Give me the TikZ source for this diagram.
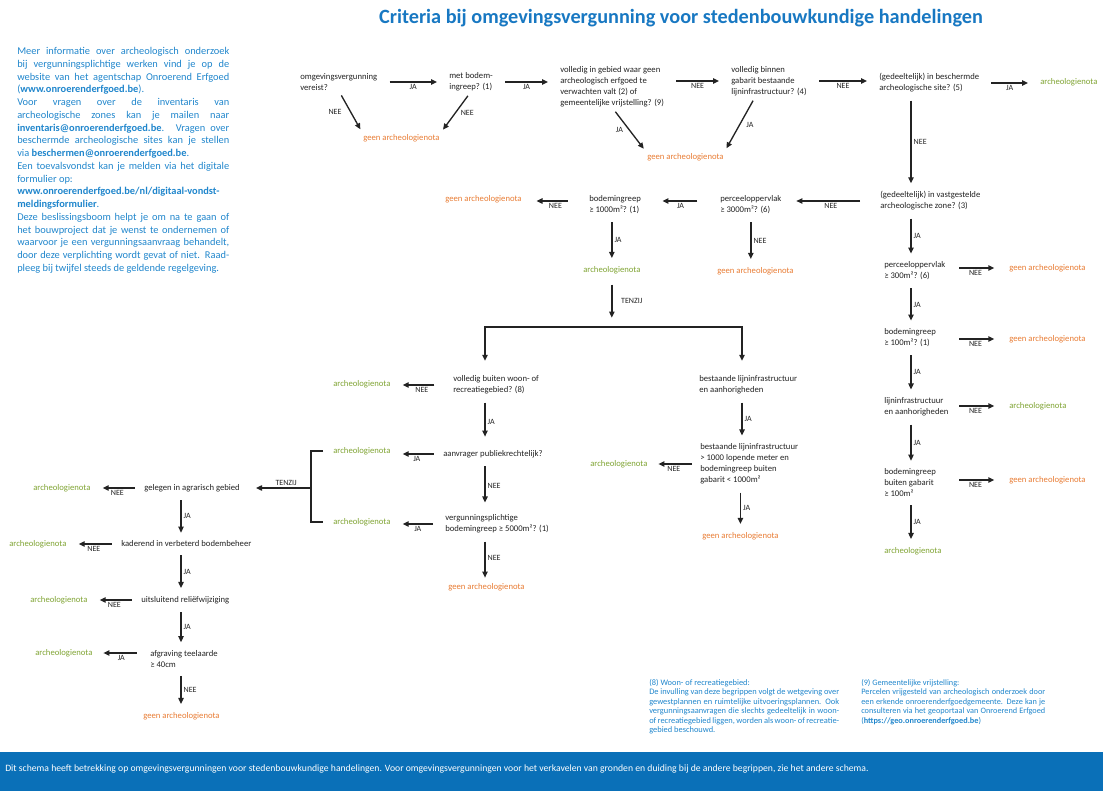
\documentclass[tikz,border=0pt]{standalone}
\usepackage{fontspec}
\setmainfont{Carlito}
\usetikzlibrary{arrows.meta}
\definecolor{txt}{RGB}{35,35,35}
\definecolor{grn}{RGB}{128,164,52}
\definecolor{org}{RGB}{232,124,52}
\definecolor{blu}{RGB}{32,134,204}
\definecolor{titleblue}{RGB}{24,120,194}
\definecolor{barblue}{RGB}{10,112,184}

\begin{document}
\begin{tikzpicture}[x = 0.75pt, y = -0.75pt, >={Triangle[length=4.5pt, width=4pt]},
    every node/.style = {inner sep = 0pt, text = txt, font = \fontsize{6.5}{8.25}\selectfont},
    q/.style = {anchor = west, align = left},
    nota/.style = {anchor = west, text = grn},
    geen/.style = {anchor = west, text = org},
    lbl/.style = {font = \fontsize{6}{7}\selectfont, inner sep = 1.5pt},
    link/.style = {draw = txt, line width = 1pt},
    harr/.style = {link, ->, shorten <= 9pt, shorten >= 9pt},
    varr/.style = {link, ->, shorten <= 6pt, shorten >= 6pt},
    darr/.style = {link, ->, shorten <= 4pt, shorten >= 4pt},
    note/.style = {anchor = north west, align = justify, text = blu,
        execute at begin node = {\parindent = 0pt\hyphenpenalty = 10000}}]
    \useasboundingbox (0,0) rectangle (1103,791);
    \fill[barblue] (0,752) rectangle (1103,791);

    \node[text = titleblue, font = \fontsize{15.2}{18}\selectfont\bfseries] (title) at (681,18)
        {Criteria bij omgevingsvergunning voor stedenbouwkundige handelingen};
    \node[note, text width = 159pt, font = \fontsize{7.8}{9.57}\selectfont] (info) at (17,47)
        {Meer informatie over archeologisch onderzoek\linebreak
        bij vergunningsplichtige werken vind je op de\linebreak
        website van het agentschap Onroerend Erfgoed\linebreak
        (\textbf{www.onroerenderfgoed.be}).\par
        Voor vragen over de inventaris van\linebreak
        archeologische zones kan je mailen naar\linebreak
        \textbf{inventaris@onroerenderfgoed.be}. Vragen over\linebreak
        beschermde archeologische sites kan je stellen\linebreak
        via \textbf{beschermen@onroerenderfgoed.be}.\par
        Een toevalsvondst kan je melden via het digitale\linebreak
        formulier op:\par
        \textbf{www.onroerenderfgoed.be/nl/digitaal-vondst-\linebreak
        meldingsformulier}.\par
        Deze beslissingsboom helpt je om na te gaan of\linebreak
        het bouwproject dat je wenst te ondernemen of\linebreak
        waarvoor je een vergunningsaanvraag behandelt,\linebreak
        door deze verplichting wordt gevat of niet. Raad-\linebreak
        pleeg bij twijfel steeds de geldende regelgeving.};
    \node[note, text width = 142.5pt, font = \fontsize{6.3}{7.1}\selectfont] (fn8) at (649,679)
        {(8) Woon- of recreatiegebied:\par
        De invulling van deze begrippen volgt de wetgeving over\linebreak
        gewestplannen en ruimtelijke uitvoeringsplannen. Ook\linebreak
        vergunningsaanvragen die slechts gedeeltelijk in woon-\linebreak
        of recreatiegebied liggen, worden als woon- of recreatie-\linebreak
        gebied beschouwd.};
    \node[note, text width = 138pt, font = \fontsize{6.2}{7.1}\selectfont] (fn9) at (861,679)
        {(9) Gemeentelijke vrijstelling:\par
        Percelen vrijgesteld van archeologisch onderzoek door\linebreak
        een erkende onroerenderfgoedgemeente. Deze kan je\linebreak
        consulteren via het geoportaal van Onroerend Erfgoed\linebreak
        (\textbf{https://geo.onroerenderfgoed.be})};
    \node[anchor = west, text = white, font = \fontsize{7.27}{8}\selectfont] (foot) at (5,769)
        {Dit schema heeft betrekking op omgevingsvergunningen voor stedenbouwkundige handelingen. Voor omgevingsvergunningen voor het verkavelen van gronden en duiding bij de andere begrippen, zie het andere schema.};

    \node[q] (vergunning) at (300,82) {omgevingsvergunning\\vereist?};
    \node[q] (ingreep) at (449,82) {met bodem-\\ingreep? (1)};
    \node[q] (gebied) at (560,87) {volledig in gebied waar geen\\archeologisch erfgoed te\\verwachten valt (2) of\\gemeentelijke vrijstelling? (9)};
    \node[q] (gabarit) at (731,81) {volledig binnen\\gabarit bestaande\\lijninfrastructuur? (4)};
    \node[q] (site) at (879,83) {(gedeeltelijk) in beschermde\\archeologische site? (5)};
    \node[nota] (n1) at (1040,82) {archeologienota};
    \node[geen] (g1) at (363,138) {geen archeologienota};
    \node[geen] (g2) at (647,157) {geen archeologienota};

    \node[q] (zone) at (880,201) {(gedeeltelijk) in vastgestelde\\archeologische zone? (3)};
    \node[q] (perceel) at (720,205) {perceeloppervlak\\≥ 3000m²? (6)};
    \node[q] (bodem) at (589,205) {bodemingreep\\≥ 1000m²? (1)};
    \node[geen] (g3) at (445,199) {geen archeologienota};
    \node[nota] (n2) at (583,270) {archeologienota};
    \node[geen] (g4) at (717,271) {geen archeologienota};

    \node[q] (woon) at (453,385) {volledig buiten woon- of\\recreatiegebied? (8)};
    \node[nota] (n3) at (333,384) {archeologienota};
    \node[q] (publiek) at (443,454) {aanvrager publiekrechtelijk?};
    \node[nota] (n4) at (333,451) {archeologienota};
    \node[q] (plicht) at (445,524) {vergunningsplichtige\\bodemingreep ≥ 5000m²? (1)};
    \node[nota] (n5) at (333,522) {archeologienota};
    \node[geen] (g5) at (448,587) {geen archeologienota};
    \node[q] (infra) at (699,385) {bestaande lijninfrastructuur\\en aanhorigheden};
    \node[q] (meter) at (700,464) {bestaande lijninfrastructuur\\> 1000 lopende meter en\\bodemingreep buiten\\gabarit < 1000m²};
    \node[nota] (n6) at (590,464) {archeologienota};
    \node[geen] (g6) at (702,536) {geen archeologienota};

    \node[q] (agrarisch) at (144,488) {gelegen in agrarisch gebied};
    \node[nota] (n7) at (33,488) {archeologienota};
    \node[q] (beheer) at (121,544) {kaderend in verbeterd bodembeheer};
    \node[nota] (n8) at (9,544) {archeologienota};
    \node[q] (relief) at (141,600) {uitsluitend reliëfwijziging};
    \node[nota] (n9) at (30,600) {archeologienota};
    \node[q] (teelaarde) at (150,659) {afgraving teelaarde\\≥ 40cm};
    \node[nota] (n10) at (35,653) {archeologienota};
    \node[geen] (g7) at (143,716) {geen archeologienota};

    \node[q] (perceel2) at (884,271) {perceeloppervlak\\≥ 300m²? (6)};
    \node[geen] (g8) at (1009,268) {geen archeologienota};
    \node[q] (bodem2) at (884,338) {bodemingreep\\≥ 100m²? (1)};
    \node[geen] (g9) at (1009,339) {geen archeologienota};
    \node[q] (infra2) at (884,407) {lijninfrastructuur\\en aanhorigheden};
    \node[nota] (n11) at (1009,406) {archeologienota};
    \node[q] (buiten) at (884,483) {bodemingreep\\buiten gabarit\\≥ 100m²};
    \node[geen] (g10) at (1009,480) {geen archeologienota};
    \node[nota] (n12) at (884,551) {archeologienota};

    \coordinate (rcol) at (911,0);
    \coordinate (rarr) at (959,0);
    \coordinate (lcol) at (485,327);
    \coordinate (mcol) at (742,327);
    \coordinate (fcol) at (181,0);
    \coordinate (brk) at (311,488);

    \draw[harr] (vergunning) -- (vergunning -| ingreep.west) node[lbl, below, midway] {JA};
    \draw[harr] (ingreep) -- (ingreep -| gebied.west) node[lbl, below, midway] {JA};
    \draw[harr] (gebied.east |- gabarit) -- (gabarit) node[lbl, below, midway] {NEE};
    \draw[harr] (gabarit) -- (gabarit -| site.west) node[lbl, below, midway] {NEE};
    \draw[harr] (site) -- (site -| n1.west) node[lbl, below, midway] {JA};
    \draw[darr] (vergunning.south) -- (g1.north west) node[lbl, left = 5pt, midway] {NEE};
    \draw[darr] (ingreep.south) -- (g1.north east) node[lbl, right = 2pt, midway] {NEE};
    \draw[darr] (gebied.south) -- (g2.north west) node[lbl, left = 3pt, midway] {JA};
    \draw[darr] ([xshift = -10pt]gabarit.south) -- (g2.north east) node[lbl, right = 3pt, midway] {JA};
    \draw[varr] (site.south -| rcol) -- (zone.north -| rcol) node[lbl, right, midway] {NEE};

    \draw[harr, shorten <= 15pt, shorten >= 11pt] (zone) -- (zone -| perceel.east) node[lbl, below, midway] {NEE};
    \draw[harr, shorten <= 17pt, shorten >= 16pt] (perceel.west |- zone) -- (bodem.east |- zone) node[lbl, below, midway] {JA};
    \draw[harr, shorten <= 16pt, shorten >= 11pt] (bodem.west |- zone) -- (g3.east |- zone) node[lbl, below, midway] {NEE};
    \draw[varr] (bodem.south -| n2) -- (n2) node[lbl, right, midway] {JA};
    \draw[varr] (perceel) -- (perceel |- g4.north) node[lbl, right, midway] {NEE};
    \draw[varr, shorten <= 8pt, shorten >= 7pt] (n2) -- (n2 |- lcol) node[lbl, right = 5pt, midway] {TENZIJ};
    \draw[link, <->, shorten <= 11pt, shorten >= 11pt] (lcol |- woon.north) -- (lcol) -- (mcol) -- (mcol |- infra.north);

    \draw[harr, shorten <= 14pt] (woon) -- (woon -| n3.east) node[lbl, below, midway] {NEE};
    \draw[varr, shorten >= 10pt] (woon.south -| lcol) -- (publiek.north -| lcol) node[lbl, right, midway] {JA};
    \draw[harr, shorten <= 7pt] (publiek) -- (publiek -| n4.east) node[lbl, below, midway] {JA};
    \draw[varr, shorten >= 9pt] (publiek.south -| lcol) -- (plicht.north -| lcol) node[lbl, right, midway] {NEE};
    \draw[harr] (plicht) -- (plicht -| n5.east) node[lbl, below, midway] {JA};
    \draw[varr, shorten >= 4pt] (plicht.south -| lcol) -- (g5.north -| lcol) node[lbl, right, midway] {NEE};
    \draw[link] ([xshift = -7.5pt]n4.west) -| (brk) |- ([xshift = -7.5pt]n5.west);
    \draw[harr, shorten <= 0pt, shorten >= 12pt] (brk) -- (brk -| agrarisch.east) node[lbl, above, pos = 0.35] {TENZIJ};
    \draw[varr] (infra.south -| mcol) -- (meter.north -| mcol) node[lbl, right, midway] {JA};
    \draw[harr, shorten <= 6pt, shorten >= 8pt] (meter.west |- n6) -- (n6) node[lbl, below, midway] {NEE};
    \draw[varr] (meter.south -| g6) -- (g6) node[lbl, right, midway] {JA};

    \draw[harr, shorten <= 7pt] (agrarisch) -- (agrarisch -| n7.east) node[lbl, below, midway] {NEE};
    \draw[varr] (agrarisch.south -| fcol) -- (beheer.north -| fcol) node[lbl, right, midway] {JA};
    \draw[harr, shorten <= 7pt] (beheer) -- (beheer -| n8.east) node[lbl, below, midway] {NEE};
    \draw[varr] (beheer.south -| fcol) -- (relief.north -| fcol) node[lbl, right, midway] {JA};
    \draw[harr, shorten <= 7pt] (relief) -- (relief -| n9.east) node[lbl, below, midway] {NEE};
    \draw[varr] (relief.south -| fcol) -- (teelaarde.north -| fcol) node[lbl, right, midway] {JA};
    \draw[harr, shorten <= 10pt, shorten >= 8pt] (teelaarde.west |- n10) -- (n10) node[lbl, below, midway] {JA};
    \draw[varr] (teelaarde.south -| fcol) -- (g7.north -| fcol) node[lbl, right, midway] {NEE};

    \draw[varr] (zone.south -| rcol) -- (perceel2.north -| rcol) node[lbl, right, midway] {JA};
    \draw[harr, shorten <= 0pt, shorten >= 11pt] (rarr |- g8) -- (g8) node[lbl, below, pos = 0.33] {NEE};
    \draw[varr] (perceel2.south -| rcol) -- (bodem2.north -| rcol) node[lbl, right, midway] {JA};
    \draw[harr, shorten <= 0pt, shorten >= 11pt] (rarr |- g9) -- (g9) node[lbl, below, pos = 0.33] {NEE};
    \draw[varr] (bodem2.south -| rcol) -- (infra2.north -| rcol) node[lbl, right, midway] {JA};
    \draw[harr, shorten <= 0pt, shorten >= 11pt] (rarr |- n11) -- (n11) node[lbl, below, pos = 0.33] {NEE};
    \draw[varr] (infra2.south -| rcol) -- (buiten.north -| rcol) node[lbl, right, midway] {JA};
    \draw[harr, shorten <= 0pt, shorten >= 11pt] (rarr |- g10) -- (g10) node[lbl, below, pos = 0.33] {NEE};
    \draw[varr] (buiten.south -| rcol) -- (n12.north -| rcol) node[lbl, right, midway] {JA};
\end{tikzpicture}
\end{document}
